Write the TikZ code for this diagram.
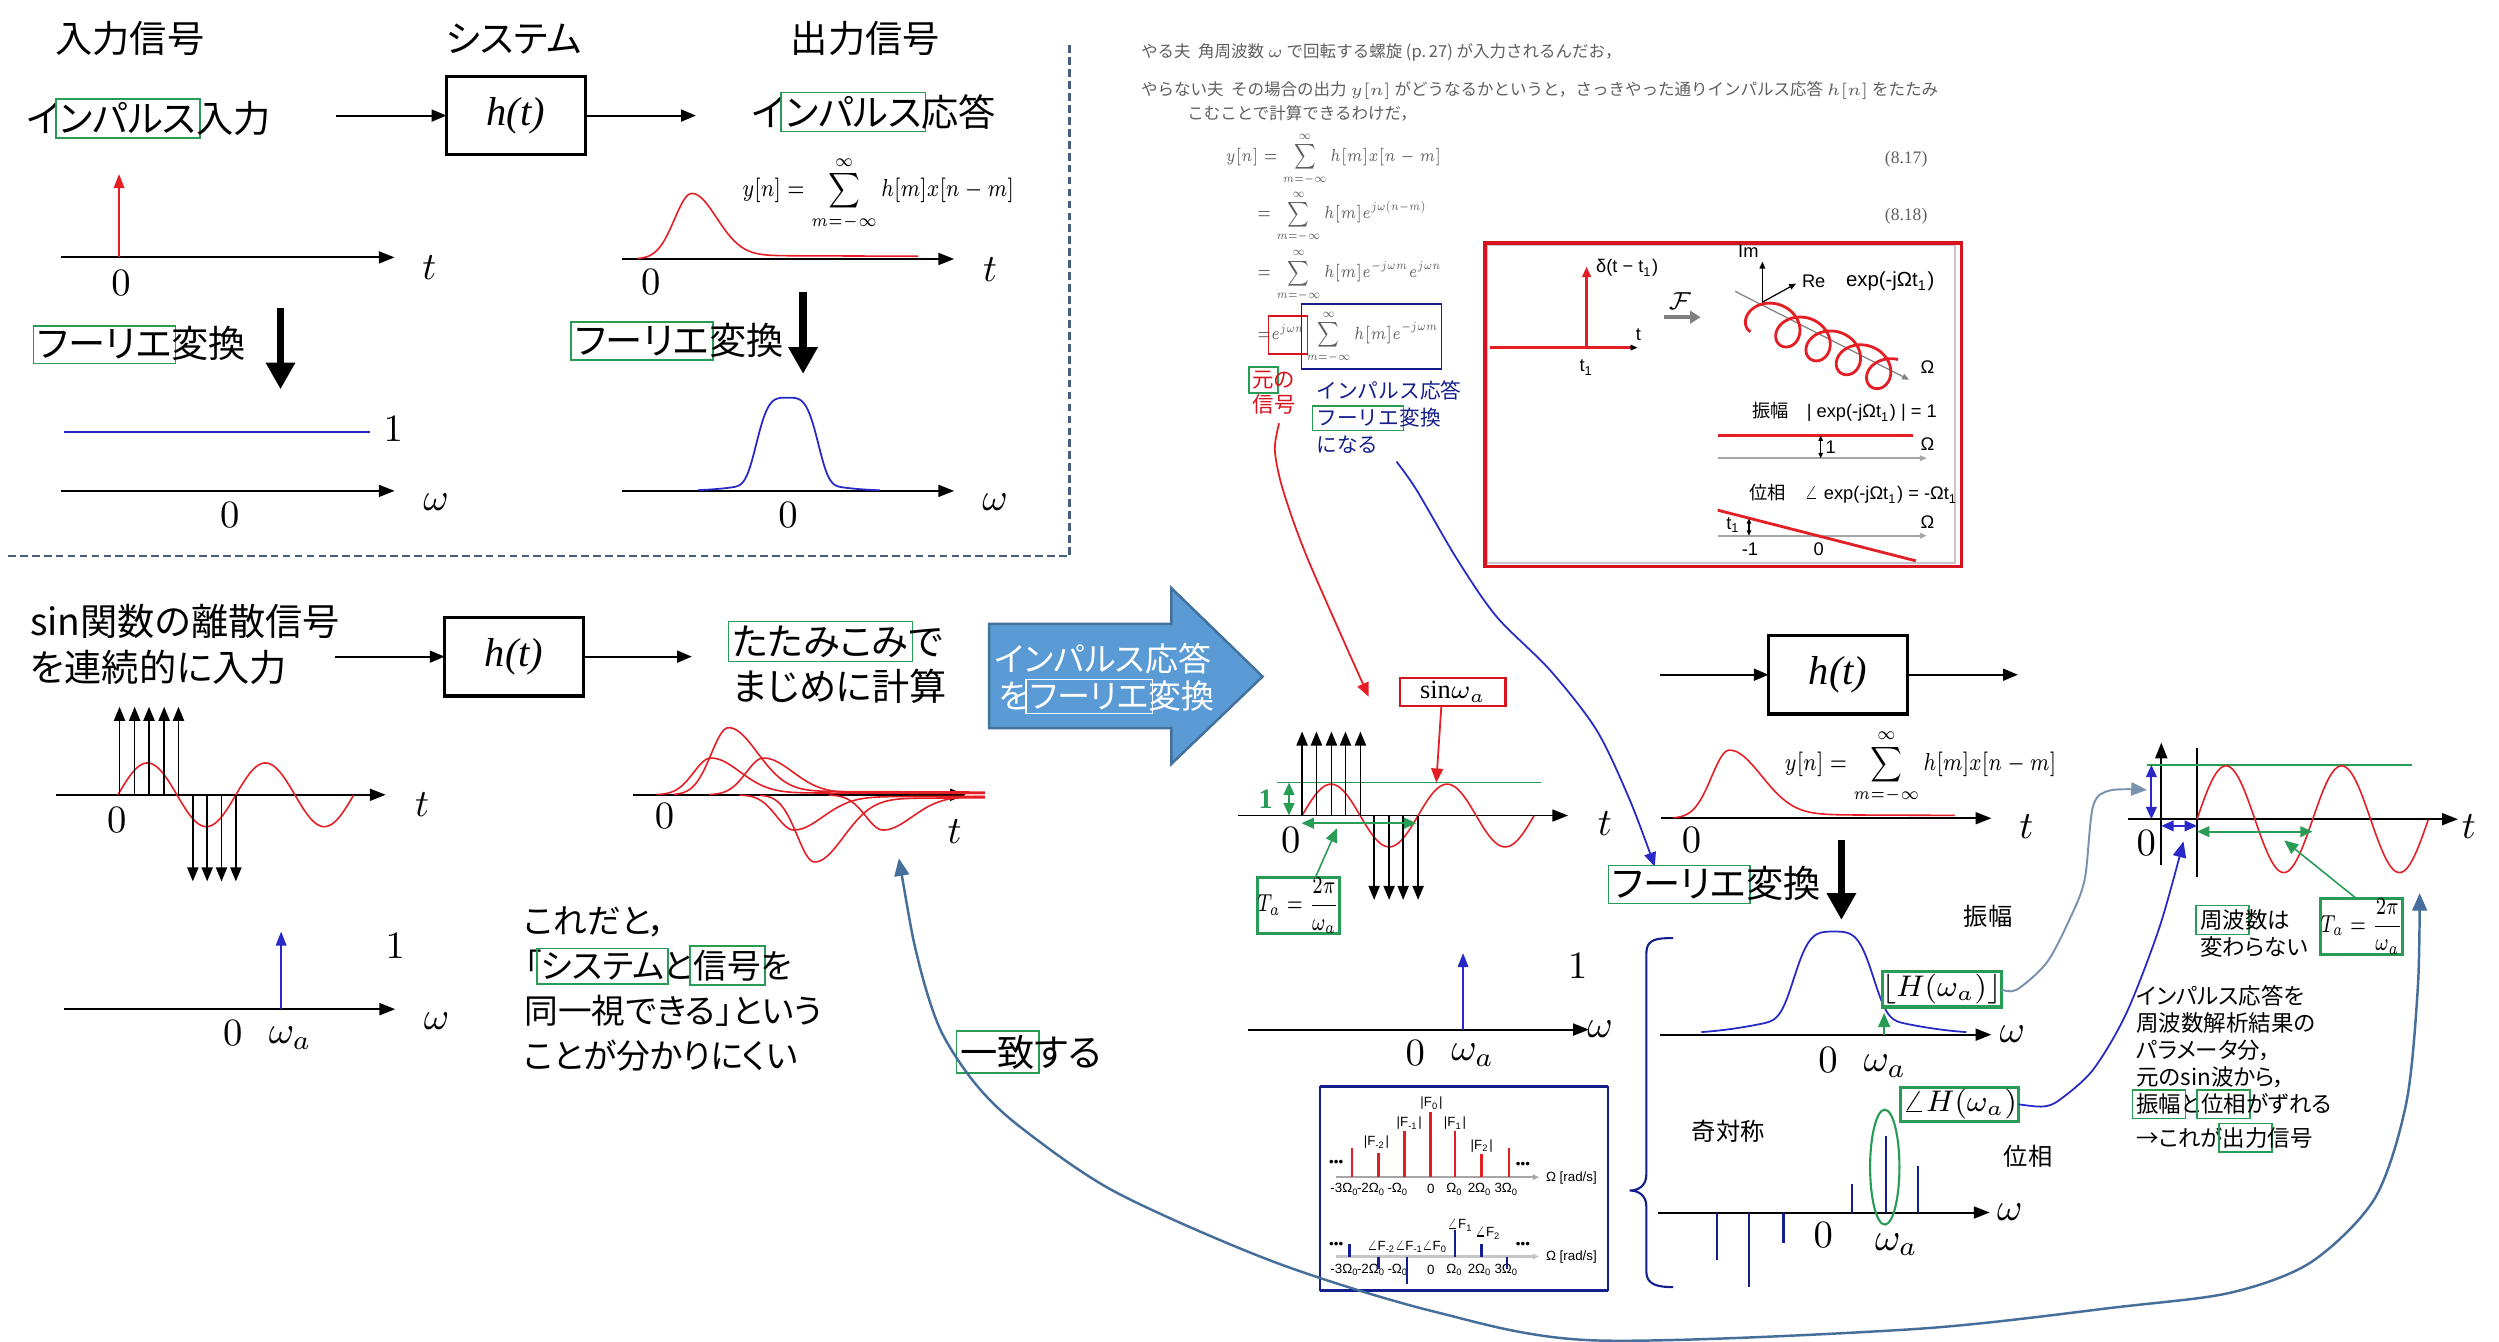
\RequirePackage{fix-cm}
\documentclass[tikz,border=0pt]{standalone}
\usepackage{amsmath}
\usepackage{fontspec}
\setmainfont{Liberation Serif}
\newfontfamily\jp[RawFeature=+palt]{Noto Sans CJK JP}
\newfontfamily\jpf{Noto Sans CJK JP}
\newfontfamily\ars{Liberation Sans}
\usetikzlibrary{arrows.meta,shapes.geometric}
\DeclareMathSizes{5}{5}{3.5}{2.6}
\DeclareMathSizes{6}{6}{4.3}{3.2}
\DeclareMathSizes{7}{7}{5}{4}
\definecolor{gboxc}{RGB}{40,155,85}
\definecolor{sred}{RGB}{228,30,36}
\definecolor{bred}{RGB}{215,20,30}
\definecolor{sblue}{RGB}{40,40,200}
\definecolor{navy}{RGB}{20,30,140}
\definecolor{steel}{RGB}{70,110,155}
\definecolor{steell}{RGB}{120,145,175}
\definecolor{dashc}{RGB}{70,95,125}
\definecolor{arrfill}{RGB}{91,155,213}
\definecolor{arrline}{RGB}{65,113,156}
\definecolor{exgray}{RGB}{95,95,95}
\newcommand\gb[2][gboxc]{\colorlet{gbtmp}{.}\setlength{\fboxsep}{0.9pt}\setlength{\fboxrule}{0.45pt}\hspace{-1.35pt}{\color{#1}\fbox{\color{gbtmp}#2}}\hspace{-1.35pt}}
\newcommand\nar[1]{\scalebox{0.76}[1]{#1}}
\newcommand\tafrac{\scalebox{0.74}[1]{$T_a=\dfrac{2\pi}{\omega_a}$}}
\newcommand\yeq{\scalebox{0.8}[1]{$y[n]=\displaystyle\sum_{m=-\infty}^{\infty}h[m]x[n-m]$}}
\begin{document}
\begin{tikzpicture}[x=0.015944cm,y=-0.015944cm,
  declare function={sq(\xa)=\xa*\xa;
    pl(\xa,\pa,\fa)=exp(-sq((\xa-\pa)/(0.45*\pa+(\fa-0.45)*\pa*(1-(\xa<\pa)))))+0.06/(1+exp(-(\xa-1.5*\pa)/6))*exp(-\xa/500);
    sg(\xa,\pa)=exp(-sq(sq(\xa/\pa)));
    gs(\xa,\pa)=exp(-sq(\xa/\pa));},
  every node/.style={inner sep=0pt,outer sep=0pt},
  jpt/.style={font=\jp\fontsize{10.6}{13}\selectfont},
  jpm/.style={font=\jp\fontsize{9.6}{12.8}\selectfont},
  jpa/.style={font=\jp\fontsize{9.4}{11.8}\selectfont, text=white},
  jps/.style={font=\jp\fontsize{6.4}{7.67}\selectfont},
  jpr/.style={font=\jp\fontsize{6.9}{8}\selectfont},
  exs/.style={font=\jpf\fontsize{4.7}{6}\selectfont, text=exgray},
  exm/.style={font=\fontsize{5}{6}\selectfont, text=exgray},
  lab/.style={font=\fontsize{11}{13}\selectfont},
  fm/.style={font=\fontsize{7}{8.5}\selectfont},
  tam/.style={draw=gboxc, line width=0.9pt, minimum width=23.3pt, minimum height=15.3pt, font=\fontsize{7}{8}\selectfont},
  arsl/.style={font=\ars\fontsize{5.2}{6}\selectfont},
  art/.style={font=\ars\fontsize{3.8}{4.5}\selectfont},
  sysbox/.style={draw, line width=0.9pt, minimum width=39.5pt, minimum height=22.4pt, font=\fontsize{11.5}{13}\selectfont\itshape},
  sarr/.style={line width=0.55pt, -{Triangle[length=4.2pt,width=3.4pt]}},
  ax/.style={line width=0.55pt, -{Triangle[length=4.5pt,width=3.4pt]}},
  impa/.style={line width=0.45pt, -{Triangle[length=4pt,width=3.2pt]}},
  bigdown/.style={line width=2.2pt, -{Triangle[length=7.6pt,width=7.9pt]}},
  gdarr/.style={gboxc, line width=0.6pt, {Triangle[length=3.5pt,width=3pt]}-{Triangle[length=3.5pt,width=3pt]}},
  bdarr/.style={sblue, line width=0.6pt, {Triangle[length=3.5pt,width=3pt]}-{Triangle[length=3.5pt,width=3pt]}},
  gpt/.style={gboxc, line width=0.45pt, -{Triangle[length=4pt,width=3.4pt]}},
  rpt/.style={sred, line width=0.5pt, -{Triangle[length=4pt,width=3.4pt]}},
  gline/.style={gboxc, line width=0.5pt},
  sig/.style={sred, line width=0.45pt},
  tiny/.style={line width=0.35pt, -{Triangle[length=2pt,width=1.6pt]}}
]
\useasboundingbox (0,0) rectangle (1568,842);
\fill[white] (0,0) rectangle (1568,842);

%================ top-left panel
\draw[dashc, line width=0.7pt, dash pattern=on 2.2pt off 1.2pt] (5,349) -- (671,349) -- (671,27);
\node[jpt] (tin) at (81.5,24.3) {入力信号};
\node[jpt] (tsys) at (322.6,24.3) {システム};
\node[jpt] (tout) at (543,24.3) {出力信号};
\node[jpt] (inimp) at (93.4,74.3) {イ\gb{ンパルス}入力};
\coordinate (a1s) at (210.7,72.5);
\node[sysbox] (sys1) at (323.65,72.5) {h(t)};
\coordinate (a1e) at (436.6,72.5);
\draw[sarr] (a1s) -- (sys1);
\draw[sarr] (sys1) -- (a1e);
\node[jpt] (outimp) at (548.5,70.3) {イ\gb{ンパルス}応答};

\draw[ax] (38.2,161.5) -- (247.6,161.5);
\node[lab] (t1) at (269.4,167.8) {$t$};
\node[lab] (z1) at (76,177.9) {$0$};
\draw[sred, line width=0.5pt, -{Triangle[length=4pt,width=3pt]}] (74.7,161.5) -- (74.7,109.2);

\draw[ax] (390.1,162.5) -- (598.7,162.5);
\node[lab] (t2) at (621.3,168.9) {$t$};
\node[lab] (z2) at (408.4,176.8) {$0$};
\draw[sig] plot[domain=0:176, samples=140] ({400+\x},{162.5-41*pl(\x,34,0.65)});
\node[fm] (eqa) at (551,121.6) {\yeq};

\node[jpt] (ft1) at (89,216.2) {\gb{フーリエ}変換};
\draw[bigdown] (176,193.2) -- (176,244.3);
\node[jpt] (ft2) at (426.2,214) {\gb{フーリエ}変換};
\draw[bigdown] (503.9,183.5) -- (503.9,234.6);

\draw[sblue, line width=0.6pt] (40.4,271.3) -- (232.4,271.3);
\node[lab] (one1) at (246.8,269) {$1$};
\draw[ax] (38.2,308) -- (247.6,308);
\node[lab] (w1) at (273.7,315.3) {$\omega$};
\node[lab] (z3) at (144.2,323.1) {$0$};
\draw[ax] (390.1,308) -- (598.7,308);
\node[lab] (w2) at (624.3,315.3) {$\omega$};
\node[lab] (z4) at (494.4,323.1) {$0$};
\draw[sblue, line width=0.5pt] plot[domain=438:552, samples=120] (\x,{308-58.5*(0.9*sg(\x-494,21)+0.1*gs(\x-494,35))});

%================ middle-left
\node[jpt, align=left, anchor=west] (sinin) at (19,404.2) {\fontsize{10.6}{12.9}\selectfont sin関数の離散信号\\を連続的に入力};
\coordinate (a2s) at (210,412);
\node[sysbox] (sys2) at (322.5,412) {h(t)};
\coordinate (a2e) at (434.1,412);
\draw[sarr] (a2s) -- (sys2);
\draw[sarr] (sys2) -- (a2e);
\node[jpt, align=left, anchor=west] (tata) at (459.5,415.6) {\fontsize{10.6}{12.9}\selectfont\gb{たたみこみ}で\\まじめに計算};

\draw[ax] (35.2,498.7) -- (242,498.7);
\node[lab] (t3) at (264.9,505) {$t$};
\node[lab] (z5) at (73.2,514.4) {$0$};
\draw[sig] plot[domain=0:2, samples=100] ({74+74*\x},{498.7-20*sin(360*\x)});
\foreach \xx in {75,84.5,93.5,103,112} \draw[impa] (\xx,498.7) -- (\xx,443.5);
\foreach \xx in {121,130,139,148} \draw[impa] (\xx,498.7) -- (\xx,553);

\draw[ax] (397.3,498.7) -- (606.1,498.7);
\node[lab] (z6) at (416.9,512.3) {$0$};
\node[lab] (t4) at (598.9,521.7) {$t$};
\foreach \s/\A/\e in {412/23/206, 423/42/195, 445/23/173, 464/-22/154, 477/-42/141, 520/-22/98}
  \draw[sig] plot[domain=0:\e, samples=120] ({\s+\x},{498.7-\A*pl(\x,34,0.75)});

\draw[ax] (40,633.2) -- (248,633.2);
\draw[sblue, line width=0.5pt, -{Triangle[length=4pt,width=3pt]}] (176.4,633.2) -- (176.4,584.5);
\node[lab] (one2) at (248,593.9) {$1$};
\node[lab] (w3) at (274,641) {$\omega$};
\node[lab] (z7) at (146,648.3) {$0$};
\node[lab] (wa1) at (182,651.4) {$\omega_a$};

\node[jpm, align=left, anchor=west] (kore) at (329,620.5) {これだと，\\「\gb{システム}と\gb{信号}を\\同一視できる」という\\ことが分かりにくい};
\node[jpt] (itchi) at (647,660) {\gb{一致}する};

% block arrow
\filldraw[fill=arrfill, draw=arrline, line width=0.7pt] (620.6,391.5) -- (735,391.5) -- (735,369) -- (792.2,424.5) -- (735,479.3) -- (735,456.9) -- (620.6,456.9) -- cycle;
\node[jpa] (ba1) at (692.2,413) {インパルス応答};
\node[jpa, anchor=west] (ba2) at (627,437) {を\gb[white]{フーリエ}変換};

%================ excerpt
\node[exs, anchor=base west] (ex1) at (716,36) {やる夫\ \ 角周波数 $\omega$ で回転する螺旋 (p.\,27) が入力されるんだお，};
\node[exs, anchor=base west] (ex2) at (716,60) {やらない夫\ \ その場合の出力 $y[n]$ がどうなるかというと，さっきやった通りインパルス応答 $h[n]$ をたたみ};
\node[exs, anchor=base west] (ex3) at (745,75) {こむことで計算できるわけだ，};
\node[exm, anchor=west] (eq1) at (769,100) {\nar{$y[n]=\displaystyle\sum_{m=-\infty}^{\infty}h[m]x[n-m]$}};
\node[exm, anchor=west] (eq2) at (789,136) {\nar{$=\displaystyle\sum_{m=-\infty}^{\infty}h[m]e^{j\omega(n-m)}$}};
\node[exm, anchor=west] (eq3) at (789,173) {\nar{$=\displaystyle\sum_{m=-\infty}^{\infty}h[m]e^{-j\omega m}e^{j\omega n}$}};
\node[exm, anchor=west] (eq4) at (789,211) {\nar{$=$\gb[bred]{\rule[-3pt]{0pt}{8.5pt}$e^{j\omega n}$}\gb[navy]{\rule[-6pt]{0pt}{15pt}\,$\displaystyle\sum_{m=-\infty}^{\infty}h[m]e^{-j\omega m}$}}};
\node[exm] (n1) at (1196,100) {(8.17)};
\node[exm] (n2) at (1196,136) {(8.18)};
\node[font=\jp\fontsize{6.1}{7.3}\selectfont, text=bred, align=left, anchor=west] (moto) at (786,245) {\gb{元}の\\信号};
\node[font=\jpf\fontsize{5.9}{7.7}\selectfont, text=navy, align=left, anchor=west] (irf) at (826,262) {インパルス応答\\\gb{フーリエ}変換\\になる};

% red box
\draw[gray!45, line width=0.5pt] (933,154) rectangle (1226.5,353.4);
\draw[bred, line width=1pt] (931.6,152.4) rectangle (1230.6,355.5);
\draw[sred, line width=0.8pt] (935,218.1) -- (1024,218.1);
\draw[tiny] (1023,218.1) -- (1027.5,218.1);
\draw[sred, line width=0.8pt, -{Triangle[length=3pt,width=2.4pt]}] (995.5,218.1) -- (995.5,167.2);
\node[arsl] (dl) at (1021,168) {δ(t − t\textsubscript{1})};
\node[arsl] (tt) at (1028,209.8) {t};
\node[arsl] (t1l) at (995.5,230.6) {t\textsubscript{1}};
\node[font=\fontsize{7}{8}\selectfont] (ff) at (1054,189) {$\mathcal{F}$};
\draw[gray, line width=1.2pt, -{Triangle[length=3pt,width=3.6pt]}] (1044,199) -- (1067,199);
\draw[gray, tiny] (1088.7,182.8) -- (1197.9,238.3);
\draw[tiny] (1105.8,191.1) -- (1105.8,164.1);
\draw[tiny] (1105.8,189.6) -- (1127,177.9);
\node[arsl] (iml) at (1097,157.8) {Im};
\node[arsl] (rel) at (1138,176.5) {Re};
\node[font=\ars\fontsize{5.8}{7}\selectfont] (expl) at (1186,176.5) {exp(-jΩt\textsubscript{1})};
\node[arsl] (oml1) at (1209.3,230.6) {Ω};
\draw[sred, line width=0.8pt] plot[domain=-60:1540, samples=300, smooth] ({1107.5+0.0528*\x-12*cos(\x)},{199.6+0.0242*\x-11.5*sin(\x)});
\node[arsl] (amp) at (1157.3,258.3) {{\jpf 振幅}\quad | exp(-jΩt\textsubscript{1}) | = 1};
\draw[sred, line width=0.8pt] (1077.8,273.3) -- (1200,273.3);
\draw[gray!70, line width=0.6pt, -{Triangle[length=2pt,width=1.6pt]}] (1077.8,287.5) -- (1209,287.5);
\draw[line width=0.3pt, {Triangle[length=1.5pt,width=1.3pt]}-{Triangle[length=1.5pt,width=1.3pt]}] (1142.4,273.3) -- (1142.4,287.5);
\node[arsl] (onel) at (1148.6,280.6) {1};
\node[arsl] (oml2) at (1209.3,278.4) {Ω};
\node[arsl] (phs) at (1163,309.7) {{\jpf 位相}\quad $\angle$ exp(-jΩt\textsubscript{1}) = -Ωt\textsubscript{1}};
\draw[gray!70, line width=0.6pt, -{Triangle[length=2pt,width=1.6pt]}] (1077.8,336.1) -- (1209,336.1);
\node[arsl] (oml3) at (1209.3,327.3) {Ω};
\draw[sred, line width=0.8pt] (1077.8,320.1) -- (1202.1,351.9);
\draw[line width=0.3pt, {Triangle[length=1.5pt,width=1.3pt]}-{Triangle[length=1.5pt,width=1.3pt]}] (1097.4,325.3) -- (1097.4,336.1);
\node[arsl] (t1m) at (1087.6,329.5) {t\textsubscript{1}};
\node[arsl] (m1) at (1098,344.5) {-1};
\node[arsl] (z0l) at (1141.2,344.5) {0};

%================ middle-right sine
\draw[ax] (776.9,511.7) -- (983.9,511.7);
\node[lab] (t5) at (1006.9,516.5) {$t$};
\node[lab] (z8) at (809.9,527) {$0$};
\draw[gline] (801,491) -- (967.2,491);
\draw[sig] plot[domain=0:2, samples=100] ({817+72.8*\x},{511.7-19.7*sin(360*\x)});
\foreach \xx in {817,826,835.4,844.2,853.6} \draw[impa] (\xx,511.7) -- (\xx,459);
\foreach \xx in {862.2,871.6,880.4,889.8} \draw[impa] (\xx,511.7) -- (\xx,564.6);
\draw[gdarr] (808.8,491) -- (808.8,511.7);
\node[font=\bfseries\fontsize{8}{9}\selectfont, text=gboxc] (g1) at (794.2,501.2) {1};
\draw[gdarr] (816.6,516.5) -- (888.8,516.5);
\node[tam] (Ta1) at (814.65,568.35) {\tafrac};
\coordinate (Ta1p) at (839,519.6);
\draw[gpt] ([xshift=4.8pt]Ta1.north) -- (Ta1p);
\node[draw=bred, line width=0.6pt, minimum width=29.9pt, minimum height=7.9pt, font=\fontsize{7.5}{9}\selectfont] (sinb) at (911.65,434.2) {sin$\omega_a$};
\coordinate (sinp) at (901.2,491);
\draw[rpt] ([xshift=-3.3pt]sinb.south) -- (sinp);

% excerpt connectors
\coordinate (redtip) at (858.8,437.2);
\draw[rpt] plot[smooth] coordinates {(802.6,265.6) (799.9,282.3) (805,307.4) (820.8,351.3) (redtip)};
\coordinate (bluetip) at (1038.3,543.7);
\draw[sblue, line width=0.5pt, -{Triangle[length=4pt,width=3.4pt]}] plot[smooth] coordinates {(876.2,289.6) (888.8,307.4) (914.5,351.3) (939,386.9) (972.4,420.3) (1001.7,458) (1022.6,501.9) (bluetip)};

% middle delta
\draw[ax] (783,646) -- (997,646);
\draw[sblue, line width=0.5pt, -{Triangle[length=4pt,width=3pt]}] (918,646) -- (918,598);
\node[lab] (one3) at (990,606) {$1$};
\node[lab] (w4) at (1004,646) {$\omega$};
\node[lab] (z9) at (888,661) {$0$};
\node[lab] (wa2) at (924,662) {$\omega_a$};

% Fourier series mini figure
\node[draw=navy, line width=0.4pt, minimum width=82.07pt, minimum height=58.07pt] (fsbox) at (918.55,745.7) {};
\draw[navy, line width=0.9pt] (fsbox.north west) -- (fsbox.north east);
\draw[navy, line width=0.9pt] (fsbox.south west) -- (fsbox.south east);
\draw[gray!70, line width=0.5pt, -{Triangle[length=1.8pt,width=1.5pt]}] (838.1,738.6) -- (965.7,738.6);
\foreach \xx/\yy in {848.4/720.4, 864.9/723.5, 881.2/709.9, 897.5/697.8, 913/709.9, 929.7/724.1, 946.9/720.4}
  \draw[sred, line width=0.75pt] (\xx,738.6) -- (\xx,\yy);
\node[art] (F0) at (898.2,692.1) {|F\textsubscript{0}|};
\node[art] (Fm1) at (884.2,704.7) {|F\textsubscript{-1}|};
\node[art] (Fp1) at (912.9,704.7) {|F\textsubscript{1}|};
\node[art] (Fm2) at (863.7,716.8) {|F\textsubscript{-2}|};
\node[art] (Fp2) at (929.7,718.9) {|F\textsubscript{2}|};
\node[art] (d1) at (838.4,729.8) {•••};
\node[art] (d2) at (955.6,730.9) {•••};
\node[art] (rs1) at (986,739.3) {Ω [rad/s]};
\foreach \xx/\lb in {843.8/{-3Ω\textsubscript{0}}, 860.5/{-2Ω\textsubscript{0}}, 877.3/{-Ω\textsubscript{0}}, 897.8/{0}, 912.9/{Ω\textsubscript{0}}, 928.6/{2Ω\textsubscript{0}}, 945.4/{3Ω\textsubscript{0}}}
  {\node[art] at (\xx,746.1) {\lb}; \node[art] at (\xx,796.8) {\lb};}
\draw[gray!45, line width=0.9pt, -{Triangle[length=1.8pt,width=1.6pt]}] (838.1,788.4) -- (965.7,788.4);
\foreach \xx/\yy in {846.9/780.4, 864.9/796.3, 882.9/805.5, 913/771.6, 929.7/780.4, 945.6/796.3}
  \draw[navy, line width=0.75pt] (\xx,788.4) -- (\xx,\yy);
\node[art] (A1) at (916.3,768.9) {$\angle$F\textsubscript{1}};
\node[art] (A2) at (933.8,773.7) {$\angle$F\textsubscript{2}};
\node[art] (Am2) at (866.8,782.2) {$\angle$F\textsubscript{-2}};
\node[art] (Am1) at (884.2,782.2) {$\angle$F\textsubscript{-1}};
\node[art] (A0) at (900.3,782.2) {$\angle$F\textsubscript{0}};
\node[art] (d3) at (838.4,781.1) {•••};
\node[art] (d4) at (955.6,781.1) {•••};
\node[art] (rs2) at (986,788.8) {Ω [rad/s]};

%================ right system
\coordinate (a3s) at (1041.4,423.35);
\node[sysbox] (sys3) at (1153.25,423.35) {h(t)};
\coordinate (a3e) at (1266.1,423.35);
\draw[sarr] (a3s) -- (sys3);
\draw[sarr] (sys3) -- (a3e);
\draw[ax] (1042.5,513.4) -- (1249.5,513.4);
\node[lab] (t6) at (1271.4,518.8) {$t$};
\node[lab] (z10) at (1061.3,526.9) {$0$};
\draw[sig] plot[domain=0:176.5, samples=140] ({1050+\x},{513.4-42.6*pl(\x,35,0.8)});
\node[fm] (eqb) at (1205,481.5) {\yeq};

\node[jpt] (ft3) at (1077,555) {\gb{フーリエ}変換};
\draw[bigdown] (1155.4,527) -- (1155.4,577.2);
\node[jpr] (shin) at (1247.4,575.1) {振幅};
\draw[sblue, line width=0.5pt] plot[domain=1067.5:1233.8, samples=150] (\x,{648.9-64.4*(0.8*sg(\x-1150.6,27)+0.2*gs(\x-1150.6,55))});
\draw[ax] (1041.4,649.2) -- (1249.5,649.2);
\node[lab] (w5) at (1262.7,649.2) {$\omega$};
\node[lab] (z11) at (1147,665) {$0$};
\node[lab] (wa3) at (1182.6,669.2) {$\omega_a$};
\draw[gpt] (1182.2,649.2) -- (1182.2,635.6);
\node[draw=gboxc, line width=0.9pt, minimum width=33.4pt, minimum height=10.1pt, font=\fontsize{8.5}{10}\selectfont] (Hb) at (1218.3,620.75) {$\lfloor H(\omega_a)\rfloor$};
\node[draw=gboxc, line width=0.9pt, minimum width=33.7pt, minimum height=9.8pt, font=\fontsize{8.5}{10}\selectfont] (Ab) at (1229.5,692.9) {$\angle H(\omega_a)$};
\node[jpr] (kitai) at (1084.3,710) {奇対称};
\node[jpr] (isou) at (1272.5,725.2) {位相};
\draw[ax] (1040.3,760.8) -- (1248.4,760.8);
\node[lab] (w6) at (1261,760.8) {$\omega$};
\node[lab] (z12) at (1144,775.2) {$0$};
\node[lab] (wa4) at (1189.9,781) {$\omega_a$};
\foreach \xx/\yy in {1077.4/790.5, 1097.3/807.4, 1119/779.7, 1161.9/742.9, 1183.2/712.8, 1203.3/731.6}
  \draw[navy, line width=0.7pt] (\xx,760.8) -- (\xx,\yy);
\node[draw=gboxc, line width=0.6pt, ellipse, minimum width=8.35pt, minimum height=32.7pt] (ell) at (1182.6,732.3) {};
\draw[navy, line width=0.6pt] (1049.8,588.6) .. controls (1040,588.6) and (1033,589) .. (1033,598) -- (1033,737) .. controls (1033,744) and (1028,747) .. (1022.6,747) .. controls (1028,747) and (1033,750) .. (1033,757) -- (1033,798) .. controls (1033,806) and (1040,807.6) .. (1049.8,807.6);

%================ right sine result
\draw[ax] (1335.2,514) -- (1542.2,514);
\draw[ax] (1356.1,542.7) -- (1356.1,465.9);
\draw[line width=0.5pt] (1378.5,469.4) -- (1378.5,550);
\node[lab] (t7) at (1549,518.6) {$t$};
\node[lab] (z13) at (1346.7,529) {$0$};
\draw[gline] (1347.1,479.9) -- (1513.6,479.9);
\draw[sig] plot[domain=0:2, samples=100] ({1378.5+72.6*\x},{514-33.5*sin(360*\x)});
\draw[bdarr] (1349.9,479.9) -- (1349.9,514);
\draw[bdarr] (1356.1,518.2) -- (1378.5,518.2);
\draw[gdarr] (1378.5,521.8) -- (1451,521.8);
\node[tam] (Ta2) at (1481.85,581.35) {\tafrac};
\coordinate (Ta2p) at (1433.2,527.3);
\draw[gpt] ([xshift=-1.5pt]Ta2.north) -- (Ta2p);
\node[jps, align=left, anchor=west] (shu) at (1380.5,584.2) {\gb{周波}数は\\変わらない};
\node[jps, align=left, anchor=west] (expl2) at (1340.5,670.9) {インパルス応答を\\周波数解析結果の\\パラメータ分，\\元のsin波から，\\\gb{振幅}と\gb{位相}がずれる\\→これが\gb{出力}信号};

% curved connectors
\coordinate (amptip) at (1347.1,495.6);
\draw[steell, line width=0.55pt, -{Triangle[length=4.5pt,width=3.8pt]}] plot[smooth] coordinates {(Hb.east) (1265.2,621.1) (1284,604.3) (1298,578) (1308,552) (1313.2,506.1) (1323.7,496) (amptip)};
\coordinate (phtip) at (1370,528);
\draw[sblue, line width=0.5pt, -{Triangle[length=4.5pt,width=3.8pt]}] plot[smooth] coordinates {(Ab.east) (1281.9,694.3) (1292.3,690.1) (1313.2,671.3) (1334.2,635.7) (1355.1,581.4) (phtip)};
\coordinate (cl) at (564,538.5);
\coordinate (cr) at (1518.2,560.4);
\draw[steel, line width=0.7pt, {Triangle[length=5pt,width=4.2pt]}-{Triangle[length=5pt,width=4.2pt]}] plot[smooth] coordinates {(cl) (576,602) (590,646) (612,680) (640,707) (700,748) (800,792) (900,823) (1000,841) (1200,834) (1330,820) (1400,811) (1450,792) (1490,752) (1509.8,692.2) (1517.1,619) (cr)};
\end{tikzpicture}
\end{document}
